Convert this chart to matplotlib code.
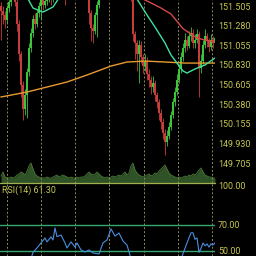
import matplotlib
matplotlib.use("Agg")
import matplotlib.pyplot as plt
import numpy as np

# ---------------- data ----------------
close = [151.45, 151.40, 151.35, 151.48, 151.55, 151.62, 151.66, 151.55, 151.30, 150.95,
         150.60, 150.32, 150.48, 150.75, 151.02, 151.20, 151.36, 151.30, 151.42, 151.50,
         151.57, 151.52, 151.56, 151.60, 151.63, 151.58, 151.65, 151.72, 151.78, 151.82,
         151.80, 151.85, 151.72, 151.80, 151.88, 151.92, 151.90, 151.95, 151.92, 151.88,
         151.90, 151.86, 151.84, 151.78, 151.42, 151.25, 151.22, 151.40, 151.52, 151.66,
         151.75, 151.82, 151.86, 151.90, 151.94, 151.92, 151.96, 151.93, 151.90, 151.88,
         151.86, 151.84, 151.82, 151.80, 151.74, 151.62, 151.18, 151.08, 150.96, 151.06,
         150.92, 150.82, 150.88, 150.72, 150.66, 150.58, 150.62, 150.48, 150.40, 150.28,
         150.18, 150.05, 149.95, 150.02, 150.12, 150.26, 150.40, 150.52, 150.66, 150.78,
         150.92, 151.02, 151.12, 151.05, 151.16, 151.20, 151.08, 151.12, 151.18, 150.80,
         150.88, 151.06, 151.16, 151.10, 151.04, 151.12, 151.08, 151.14]
high = [151.55, 151.50, 151.45, 151.52, 151.60, 151.68, 151.72, 151.70, 151.58, 151.34,
        150.99, 150.65, 150.55, 150.80, 151.08, 151.25, 151.40, 151.42, 151.46, 151.55,
        151.62, 151.60, 151.60, 151.65, 151.68, 151.66, 151.70, 151.76, 151.82, 151.86,
        151.88, 151.90, 151.88, 151.84, 151.92, 151.96, 151.98, 152.00, 151.98, 151.96,
        151.94, 151.94, 151.90, 151.88, 151.82, 151.46, 151.30, 151.44, 151.56, 151.70,
        151.80, 151.86, 151.90, 151.94, 151.98, 151.98, 152.00, 151.99, 151.96, 151.94,
        151.92, 151.90, 151.88, 151.86, 151.84, 151.78, 151.66, 151.22, 151.12, 151.12,
        151.10, 150.96, 150.95, 150.92, 150.78, 150.70, 150.70, 150.66, 150.52, 150.44,
        150.32, 150.22, 150.10, 150.08, 150.18, 150.30, 150.45, 150.58, 150.72, 150.84,
        150.98, 151.08, 151.20, 151.16, 151.22, 151.26, 151.24, 151.18, 151.24, 151.22,
        150.96, 151.12, 151.24, 151.20, 151.14, 151.18, 151.16, 151.20]
low = [151.12, 151.30, 151.25, 151.30, 151.44, 151.50, 151.58, 151.50, 151.22, 150.88,
       150.46, 150.20, 150.25, 150.22, 150.70, 150.98, 151.15, 151.24, 151.26, 151.38,
       151.35, 151.46, 151.48, 151.52, 151.55, 151.52, 151.55, 151.60, 151.68, 151.74,
       151.74, 151.76, 151.52, 151.68, 151.76, 151.84, 151.86, 151.86, 151.88, 151.84,
       151.84, 151.82, 151.80, 151.70, 151.30, 151.10, 151.08, 151.18, 151.15, 151.48,
       151.62, 151.72, 151.78, 151.82, 151.86, 151.88, 151.90, 151.89, 151.86, 151.84,
       151.82, 151.80, 151.78, 151.76, 151.70, 151.56, 151.10, 150.90, 150.76, 150.62,
       150.85, 150.74, 150.76, 150.66, 150.58, 150.50, 150.52, 150.42, 150.34, 150.20,
       150.10, 149.98, 149.80, 149.90, 149.98, 150.08, 150.22, 150.36, 150.48, 150.62,
       150.74, 150.88, 150.98, 151.00, 151.02, 151.10, 151.02, 151.02, 151.08, 150.46,
       150.74, 150.84, 151.02, 151.04, 150.98, 151.00, 151.02, 151.04]
first_open = 151.50

volume = [7, 11, 6, 5, 5, 6, 5, 6, 8, 9, 11, 10, 8, 12, 17, 20, 14, 9, 7, 6,
          5, 5, 5, 6, 5, 5, 6, 7, 8, 6, 7, 8, 7, 6, 5, 6, 5, 5, 6, 5,
          6, 6, 7, 9, 11, 9, 8, 9, 11, 9, 7, 6, 5, 6, 5, 6, 7, 6, 7, 8,
          7, 9, 11, 8, 10, 17, 20, 13, 10, 8, 7, 6, 7, 8, 9, 7, 8, 10, 9, 12,
          14, 16, 18, 14, 10, 8, 7, 6, 5, 6, 5, 6, 7, 6, 8, 7, 9, 8, 10, 13,
          15, 11, 8, 7, 6, 6, 5, 5]

ma_long_idx = [0, 13, 21, 33, 43, 55, 63, 72, 82, 92, 100, 107]
ma_long = [150.462, 150.519, 150.565, 150.634, 150.714, 150.817, 150.863, 150.874,
           150.863, 150.851, 150.851, 150.851]

ma_mid_idx = [66, 72, 75, 80, 85, 91, 95, 98, 102, 107]
ma_mid = [151.66, 151.574, 151.540, 151.482, 151.413, 151.245, 151.184, 151.138,
          151.115, 151.092]

ma_short_idx = [12, 13, 16, 21, 26, 29, 35, 60, 68, 73, 77, 82, 85, 88, 91, 93, 97, 102, 107]
ma_short = [151.66, 151.608, 151.482, 151.436, 151.494, 151.597, 151.746, 151.80,
            151.585, 151.402, 151.264, 151.081, 150.943, 150.851, 150.760, 150.737,
            150.783, 150.829, 150.909]

rsi_idx = [0, 8, 12, 15, 16, 18, 20, 22, 23, 25, 26, 27, 28, 30, 32, 33, 35, 37, 38,
           40, 42, 44, 46, 49, 51, 53, 55, 57, 59, 61, 63, 65, 70, 80, 86, 90, 91, 93,
           95, 96, 97, 98, 99, 100, 101, 102, 103, 104, 105, 106, 107]
rsi = [38, 35, 30, 44, 49, 52.3, 56.2, 60, 57, 60.8, 58.5, 67.7, 61, 62.3, 56.2, 52.3,
       57, 53, 56.2, 50.8, 49.2, 50.8, 48.5, 47.7, 56.2, 58.5, 67.0, 61.5, 63.8, 57.7,
       54.6, 44, 35, 25, 35, 44, 48, 56.2, 64, 64, 59, 60, 49, 52, 56.2, 54, 55.4, 53,
       55.4, 54.6, 56.2]
rsi_last = "61.30"

price_ticks = [151.505, 151.280, 151.055, 150.830, 150.605, 150.380, 150.155, 149.930, 149.705]
rsi_ticks = [100, 70, 50]
grid_idx = [3, 20, 37, 54, 71.5, 88.5, 105.5]

# ---------------- style ----------------
BG = "#000000"
TXT = "#c8c850"
UP = "#3cc43c"
DN = "#c83c3c"
GRID = "#8c8c5c"
FONT = "Roboto"

W, H = 256, 256
fig = plt.figure(figsize=(2.56, 2.56), dpi=100, facecolor=BG)

def rect(x0, y0, x1, y1):
    return [x0 / W, 1 - y1 / H, (x1 - x0) / W, (y1 - y0) / H]

ax = fig.add_axes(rect(0, 0, 215, 183))
axv = ax.twinx()
axr = fig.add_axes(rect(0, 184, 215, 256))

for a in (ax, axv, axr):
    a.set_facecolor("none")
    for s in a.spines.values():
        s.set_visible(False)
ax.set_facecolor(BG)
axr.set_facecolor(BG)
ax.set_zorder(axv.get_zorder() + 1)
ax.patch.set_visible(False)
axv.set_facecolor(BG)

n = len(close)
idx = np.arange(n)
opens = [first_open] + close[:-1]

# volume
axv.fill_between(idx, volume, 0, color="#2f5226", lw=0)
axv.plot(idx, volume, color="#4d7a3a", lw=0.6)
axv.set_ylim(0, 183)
axv.set_yticks([])

# candles
for i in range(n):
    o, c, h, l = opens[i], close[i], high[i], low[i]
    col = UP if c >= o else DN
    ax.vlines(i, l, h, color=col, lw=0.6, zorder=3)
    ax.bar(i, abs(c - o) if abs(c - o) > 0.004 else 0.004, bottom=min(o, c), width=0.7,
           color=col, lw=0, zorder=3)

ax.plot(ma_long_idx, ma_long, color="#e89a30", lw=1.0, zorder=4)
ax.plot(ma_mid_idx, ma_mid, color="#d84848", lw=1.0, zorder=4)
ax.plot(ma_short_idx, ma_short, color="#40e0a0", lw=1.0, zorder=4)

ax.set_xlim(-0.5, 107)
ax.set_ylim(149.476, 151.574)
ax.set_xticks([])
ax.yaxis.tick_right()
ax.set_yticks(price_ticks)
ax.set_yticklabels([f"{t:.3f}" for t in price_ticks])
ax.tick_params(axis="y", length=0, pad=2.2, labelsize=6.4, labelcolor=TXT)
for lab in ax.get_yticklabels():
    lab.set_fontfamily(FONT)

for g in grid_idx:
    ax.axvline(g, color=GRID, lw=0.7, ls=(0, (2, 2)), zorder=1)
    axr.axvline(g, color=GRID, lw=0.7, ls=(0, (2, 2)), zorder=1)

# RSI
axr.plot(rsi_idx, rsi, color="#4a8fe0", lw=0.8, zorder=3)
axr.axhline(70, color="#35a870", lw=1.0, zorder=2)
axr.axhline(50, color="#35a870", lw=1.0, zorder=2)
axr.set_xlim(-0.5, 107)
axr.set_ylim(46.15, 101.5)
axr.set_xticks([])
axr.yaxis.tick_right()
axr.set_yticks(rsi_ticks)
axr.set_yticklabels([f"{t:.2f}" for t in rsi_ticks])
axr.tick_params(axis="y", length=0, pad=2.2, labelsize=6.4, labelcolor=TXT)
for lab in axr.get_yticklabels():
    lab.set_fontfamily(FONT)
axr.text(0.01, 0.915, f"RSI(14) {rsi_last}", transform=axr.transAxes, color=TXT,
         fontsize=6.4, family=FONT, va="center", ha="left")

# separator line under volume
fig.add_artist(plt.Line2D([0, 215 / W], [1 - 183 / H, 1 - 183 / H], color="#a0b050",
                          lw=0.9, transform=fig.transFigure))

fig.savefig("out.png", dpi=100, facecolor=BG)
